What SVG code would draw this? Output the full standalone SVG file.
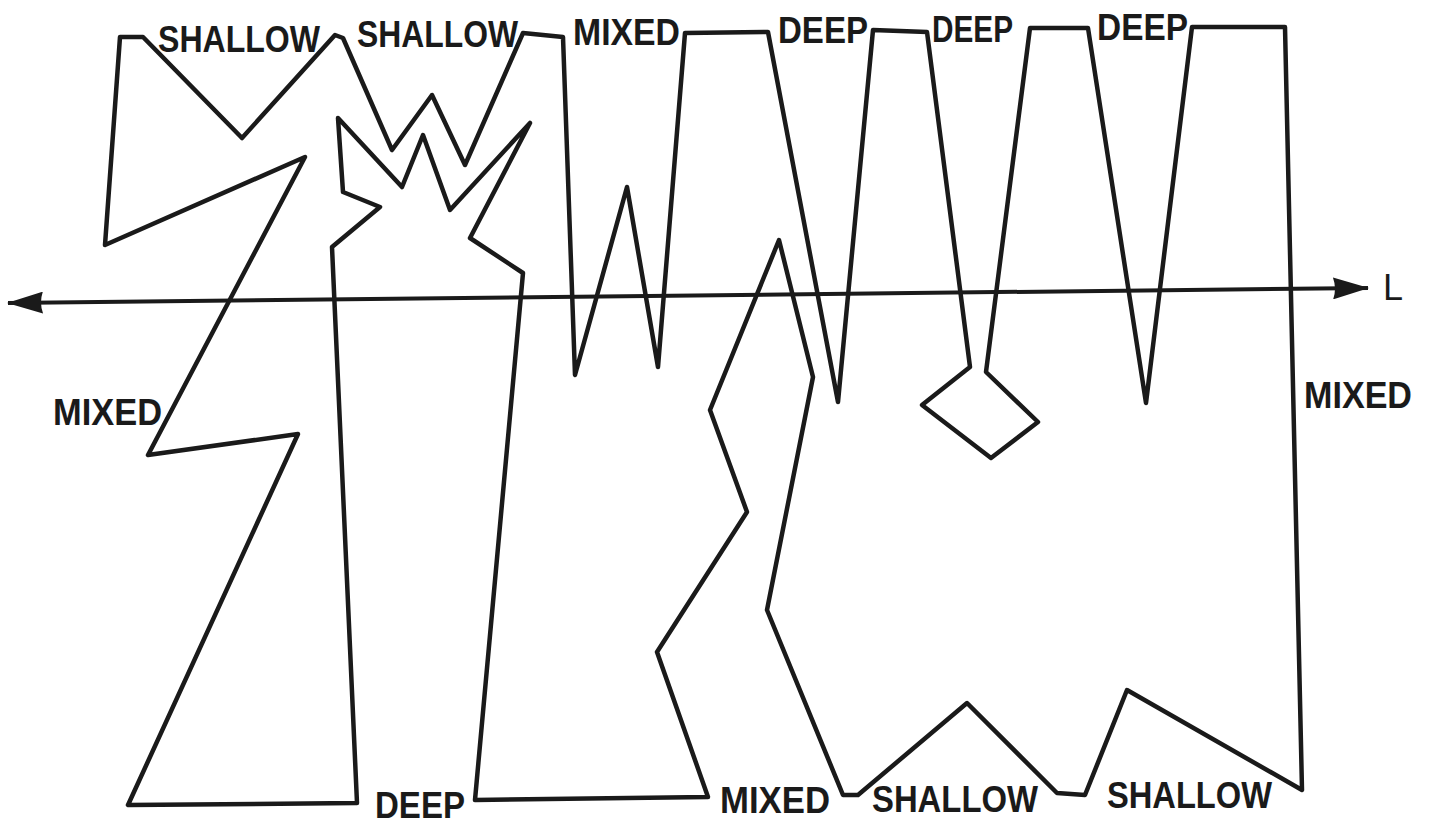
<svg xmlns="http://www.w3.org/2000/svg" width="1429" height="825" viewBox="0 0 1429 825">
<style>
.curve{fill:none;stroke:#1a1a1a;stroke-width:4.5;stroke-linejoin:round;stroke-linecap:round}
.axis{fill:none;stroke:#1a1a1a;stroke-width:4}
.lbl{font-family:"Liberation Sans",Arial,sans-serif;font-weight:bold;font-size:36px;fill:#1a1a1a}
</style>
<defs>
<marker id="arr" markerUnits="userSpaceOnUse" viewBox="0 0 36 22" refX="35" refY="11" markerWidth="36" markerHeight="22" orient="auto-start-reverse">
<path d="M0,0 L36,11 L0,22 Q4,11 0,0 z" fill="#1a1a1a"/>
</marker>
</defs>
<rect width="1429" height="825" fill="#ffffff"/>
<g id="axis">
<line class="axis" x1="8" y1="303" x2="1368" y2="288" marker-start="url(#arr)" marker-end="url(#arr)"/>
<text class="lbl" x="1383" y="300" font-weight="normal" style="font-weight:normal">L</text>
</g>
<g id="curve">
<polygon class="curve" points="120,37 105,245 305,157 148,455 298,434 128,805 357,803 332,247 380,207 343,192 338,118 402,187 423,135 450,210 530,123 470,238 523,273 475,800 708,797 657,652 747,512 710,410 779,240 813,377 767,610 843,795 858,795 967,703 1057,793 1085,795 1127,690 1302,790 1285,27 1192,27 1146,403 1088,28 1030,28 986,372 1038,422 991,458 922,405 970,367 927,32 873,30 838,402 768,32 685,33 658,367 627,187 575,375 563,37 523,33 465,165 432,95 392,150 343,38 335,35 242,138 143,37"/>
</g>
<g id="labels">
<text class="lbl" x="158" y="52" textLength="162" lengthAdjust="spacingAndGlyphs">SHALLOW</text>
<text class="lbl" x="357" y="47" textLength="161" lengthAdjust="spacingAndGlyphs">SHALLOW</text>
<text class="lbl" x="573" y="45" textLength="107" lengthAdjust="spacingAndGlyphs">MIXED</text>
<text class="lbl" x="778" y="43" textLength="90" lengthAdjust="spacingAndGlyphs">DEEP</text>
<text class="lbl" x="932" y="42" textLength="81" lengthAdjust="spacingAndGlyphs">DEEP</text>
<text class="lbl" x="1097" y="40" textLength="91" lengthAdjust="spacingAndGlyphs">DEEP</text>
<text class="lbl" x="53" y="425" textLength="109" lengthAdjust="spacingAndGlyphs">MIXED</text>
<text class="lbl" x="1304" y="408" textLength="108" lengthAdjust="spacingAndGlyphs">MIXED</text>
<text class="lbl" x="375" y="818" textLength="90" lengthAdjust="spacingAndGlyphs">DEEP</text>
<text class="lbl" x="720" y="813" textLength="110" lengthAdjust="spacingAndGlyphs">MIXED</text>
<text class="lbl" x="872" y="812" textLength="166" lengthAdjust="spacingAndGlyphs">SHALLOW</text>
<text class="lbl" x="1107" y="808" textLength="165" lengthAdjust="spacingAndGlyphs">SHALLOW</text>
</g>
</svg>
